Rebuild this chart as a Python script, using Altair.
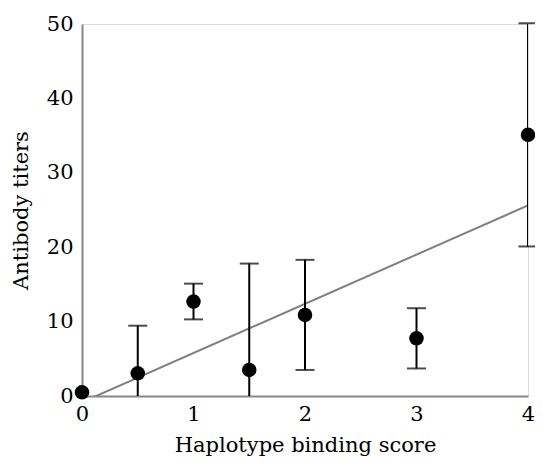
import altair as alt
import pandas as pd

scores = [0, 0.5, 1, 1.5, 2, 3, 4]
titers = [0.5, 3.05, 12.7, 3.5, 10.9, 7.75, 35.1]
errors = [0, 6.4, 2.4, 14.3, 7.4, 4.05, 15.0]

df = pd.DataFrame({"score": scores, "titer": titers, "err": errors})
df["lo"] = df["titer"] - df["err"]
df["hi"] = df["titer"] + df["err"]
bars = df[df["err"] > 0]

FONT = "DejaVu Serif"

xscale = alt.Scale(domain=[0, 4], nice=False, zero=False)
yscale = alt.Scale(domain=[0, 50], nice=False)

xax = alt.Axis(values=[0, 1, 2, 3, 4], format="d", title="Haplotype binding score", grid=False, ticks=False,
               domainColor="#888888", domainWidth=2, labelFont=FONT, labelFontSize=21,
               labelColor="black", titleFont=FONT, titleFontSize=21, titleFontWeight="normal",
               titleColor="black", labelPadding=7, titlePadding=10, labelFlush=False)
yax = alt.Axis(values=[0, 10, 20, 30, 40, 50], format="d", title="Antibody titers", grid=False, ticks=False,
               domainColor="#888888", domainWidth=2, labelFont=FONT, labelFontSize=21,
               labelColor="black", titleFont=FONT, titleFontSize=21, titleFontWeight="normal",
               titleColor="black", labelPadding=9, titlePadding=15, labelFlush=False)

base = alt.Chart(df)

fit = base.transform_regression("score", "titer", extent=[0, 4]).mark_line(
    color="#808080", strokeWidth=2, clip=True
).encode(x=alt.X("score:Q", scale=xscale, axis=xax), y=alt.Y("titer:Q", scale=yscale, axis=yax))

bar_base = alt.Chart(bars)
rules = bar_base.mark_rule(color="black", strokeWidth=2, clip=True).encode(
    x=alt.X("score:Q", scale=xscale), y=alt.Y("lo:Q", scale=yscale), y2="hi:Q")
cap_hi = bar_base.mark_tick(color="black", thickness=2, size=19, orient="horizontal").encode(
    x=alt.X("score:Q", scale=xscale), y=alt.Y("hi:Q", scale=yscale))
cap_lo = bar_base.transform_filter("datum.lo >= 0").mark_tick(
    color="black", thickness=2, size=19, orient="horizontal").encode(
    x=alt.X("score:Q", scale=xscale), y=alt.Y("lo:Q", scale=yscale))

points = base.mark_circle(color="black", opacity=1, size=210).encode(
    x=alt.X("score:Q", scale=xscale), y=alt.Y("titer:Q", scale=yscale))

chart = alt.layer(fit, rules, cap_hi, cap_lo, points).properties(
    width=446, height=372,
    autosize=alt.AutoSizeParams(type="none"),
    padding={"left": 74, "top": 16, "right": 7, "bottom": 61},
).configure_view(stroke=None).configure(background="white")

chart.save("out.html", embed_options={"renderer": "svg", "actions": False})
